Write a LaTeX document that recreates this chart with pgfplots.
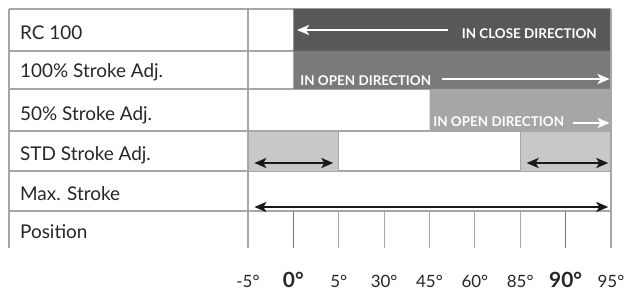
\documentclass[border=0pt]{standalone}
\usepackage{fontspec}
\setmainfont{Lato}
\usepackage{pgfplots}
\pgfplotsset{compat=1.18}
\usetikzlibrary{arrows.meta}
\definecolor{gridc}{HTML}{A6A6A6}
\definecolor{darkc}{HTML}{58585A}
\definecolor{midc}{HTML}{7A7A7C}
\definecolor{lightc}{HTML}{A6A6A8}
\definecolor{palec}{HTML}{C8C8CA}
\definecolor{posc}{HTML}{7A7A7A}
\begin{document}
\begin{tikzpicture}[x=1bp,y=1bp]
\begin{axis}[
  scale only axis, width=602bp, height=239bp,
  xmin=-5.267, xmax=8, ymin=0, ymax=239,
  clip=false,
  axis line style={draw=none},
  ytick=\empty,
  xtick={0,1,2,3,4,5,6,7,8},
  xticklabels={-5°,{\fontsize{21}{23}\selectfont\bfseries 0°},5°,30°,45°,60°,85°,{\fontsize{21}{23}\selectfont\bfseries 90°},95°},
  major tick length=0pt,
  xticklabel style={anchor=base, yshift=-39bp, font=\fontsize{17}{19}\selectfont, text=black!85},
]
% grid lines
\addplot[gridc, line width=1.1bp] coordinates {(-5.267,239) (8,239)};
\addplot[gridc, line width=1.1bp] coordinates {(-5.267,197) (8,197)};
\addplot[gridc, line width=1.1bp] coordinates {(-5.267,159) (8,159)};
\addplot[gridc, line width=1.1bp] coordinates {(-5.267,117) (8,117)};
\addplot[gridc, line width=1.1bp] coordinates {(-5.267,77) (8,77)};
\addplot[gridc, line width=1.1bp] coordinates {(-5.267,37) (8,37)};
\addplot[gridc, line width=1.1bp] coordinates {(-5.267,0) (-5.267,239)};
\addplot[gridc, line width=1.1bp] coordinates {(0,0) (0,239)};
% fills
\addplot[fill=darkc, draw=none] coordinates {(1,197) (8,197) (8,239) (1,239) (1,197)};
\addplot[fill=midc, draw=none] coordinates {(1,159) (8,159) (8,197) (1,197) (1,159)};
\addplot[fill=lightc, draw=none] coordinates {(4,117) (8,117) (8,159) (4,159) (4,117)};
\addplot[fill=palec, draw=gridc, line width=0.6bp] coordinates {(0,77) (2,77) (2,117) (0,117) (0,77)};
\addplot[fill=palec, draw=gridc, line width=0.6bp] coordinates {(6,77) (8,77) (8,117) (6,117) (6,77)};
% right border
\addplot[gridc, line width=1.1bp] coordinates {(8,0) (8,239)};
% position ticks
\addplot[gridc, line width=1.1bp] coordinates {(2,0) (2,37)};
\addplot[gridc, line width=1.1bp] coordinates {(3,0) (3,37)};
\addplot[gridc, line width=1.1bp] coordinates {(4,0) (4,37)};
\addplot[gridc, line width=1.1bp] coordinates {(5,0) (5,37)};
\addplot[gridc, line width=1.1bp] coordinates {(6,0) (6,37)};
\addplot[posc, line width=1.6bp] coordinates {(1,0) (1,37)};
\addplot[posc, line width=1.6bp] coordinates {(7,0) (7,37)};
% arrows
\addplot[white, line width=2.2bp, -{Stealth[length=12bp,width=10bp,inset=3bp]}] coordinates {(4.41,218) (1.08,218)};
\addplot[white, line width=2.2bp, -{Stealth[length=12bp,width=10bp,inset=3bp]}] coordinates {(4.28,169) (7.97,169)};
\addplot[white, line width=2.2bp, -{Stealth[length=12bp,width=10bp,inset=3bp]}] coordinates {(7.16,125) (7.97,125)};
\addplot[black!90, line width=2.4bp, {Stealth[length=12bp,width=10bp,inset=3bp]}-{Stealth[length=12bp,width=10bp,inset=3bp]}] coordinates {(0.14,85) (1.88,85)};
\addplot[black!90, line width=2.4bp, {Stealth[length=12bp,width=10bp,inset=3bp]}-{Stealth[length=12bp,width=10bp,inset=3bp]}] coordinates {(6.14,85) (7.94,85)};
\addplot[black!90, line width=2.4bp, {Stealth[length=12bp,width=10bp,inset=3bp]}-{Stealth[length=12bp,width=10bp,inset=3bp]}] coordinates {(0.14,41) (7.94,41)};
% bar texts
\node[anchor=base east, inner sep=0pt, text=white, font=\fontsize{13.5}{16}\selectfont\bfseries] at (axis cs:7.69,210) {IN CLOSE DIRECTION};
\node[anchor=base west, inner sep=0pt, text=white, font=\fontsize{13.5}{16}\selectfont\bfseries] at (axis cs:1.15,163) {IN OPEN DIRECTION};
\node[anchor=base west, inner sep=0pt, text=white, font=\fontsize{13.5}{16}\selectfont\bfseries] at (axis cs:4.08,122) {IN OPEN DIRECTION};
% row labels
\node[anchor=base west, inner sep=0pt, text=black!85, font=\fontsize{19}{22}\selectfont] at (axis cs:-5.025,209) {RC 100};
\node[anchor=base west, inner sep=0pt, text=black!85, font=\fontsize{19}{22}\selectfont] at (axis cs:-5.025,171) {100\% Stroke Adj.};
\node[anchor=base west, inner sep=0pt, text=black!85, font=\fontsize{19}{22}\selectfont] at (axis cs:-5.025,128) {50\% Stroke Adj.};
\node[anchor=base west, inner sep=0pt, text=black!85, font=\fontsize{19}{22}\selectfont] at (axis cs:-5.025,88) {STD Stroke Adj.};
\node[anchor=base west, inner sep=0pt, text=black!85, font=\fontsize{19}{22}\selectfont] at (axis cs:-5.025,48) {Max. Stroke};
\node[anchor=base west, inner sep=0pt, text=black!85, font=\fontsize{19}{22}\selectfont] at (axis cs:-5.025,10) {Position};
\end{axis}
\pgfresetboundingbox
\path (-9bp,-47bp) rectangle (622bp,248bp);
\end{tikzpicture}
\end{document}
